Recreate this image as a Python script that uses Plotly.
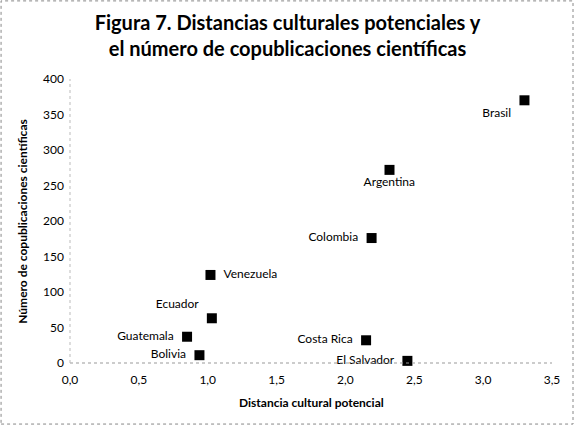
import plotly.graph_objs as go

countries = ['Brasil', 'Argentina', 'Colombia', 'Venezuela', 'Ecuador',
             'Guatemala', 'Bolivia', 'Costa Rica', 'El Salvador']
distancia = [3.30, 2.32, 2.19, 1.02, 1.03, 0.85, 0.94, 2.15, 2.45]
copublicaciones = [370, 272, 176, 124, 63, 37, 11, 32, 3]
label_pos = ['bottom left', 'bottom center', 'middle left', 'middle right',
             'top left', 'middle left', 'middle left', 'middle left', 'middle left']

x_ticks = [0, 0.5, 1, 1.5, 2, 2.5, 3, 3.5]
x_tick_labels = ['0,0', '0,5', '1,0', '1,5', '2,0', '2,5', '3,0', '3,5']

font_family = 'Lato, Open Sans, sans-serif'

fig = go.Figure()
fig.add_trace(go.Scatter(
    x=distancia,
    y=copublicaciones,
    mode='markers+text',
    text=['  ' + c + '  ' for c in countries],
    textposition=label_pos,
    textfont=dict(family=font_family, size=12, color='black'),
    marker=dict(symbol='square', size=10, color='black'),
    showlegend=False,
    cliponaxis=False,
))

fig.update_layout(
    width=575,
    height=426,
    title=dict(
        text='<b>Figura 7. Distancias culturales potenciales y<br>el número de copublicaciones científicas</b>',
        x=0.5,
        y=0.93,
        xanchor='center',
        yanchor='top',
        font=dict(family=font_family, size=20, color='black'),
    ),
    xaxis=dict(
        range=[0, 3.5],
        tickvals=x_ticks,
        ticktext=x_tick_labels,
        showgrid=False,
        zeroline=False,
        showline=False,
        ticks='',
        ticklabelstandoff=8,
        automargin=False,
        tickfont=dict(family=font_family, size=12, color='black'),
    ),
    yaxis=dict(
        range=[0, 400],
        dtick=50,
        showgrid=False,
        zeroline=False,
        showline=False,
        ticks='',
        ticklabelstandoff=5,
        automargin=False,
        tickfont=dict(family=font_family, size=12, color='black'),
    ),
    paper_bgcolor='white',
    plot_bgcolor='white',
    margin=dict(l=70, r=23, t=79, b=63),
    annotations=[
        dict(text='<b>Distancia cultural potencial</b>', xref='paper', yref='paper',
             x=0.5, y=-0.14, xanchor='center', yanchor='middle', showarrow=False,
             font=dict(family=font_family, size=12, color='black')),
        dict(text='<b>Número de copublicaciones científicas</b>', xref='paper', yref='paper',
             x=-0.1, y=0.5, xanchor='center', yanchor='middle', textangle=-90,
             showarrow=False, font=dict(family=font_family, size=12, color='black')),
    ],
    shapes=[
        # dotted axis lines
        dict(type='line', xref='paper', yref='paper', x0=0, x1=1, y0=0, y1=0,
             line=dict(color='#999999', width=1, dash='dot')),
        dict(type='line', xref='paper', yref='paper', x0=0, x1=0, y0=0, y1=1,
             line=dict(color='#bbbbbb', width=1, dash='dot')),
        # chart border
        dict(type='rect', xref='paper', yref='paper',
             x0=-0.143, x1=1.0436, y0=-0.215, y1=1.275,
             line=dict(color='#888888', width=1, dash='dot')),
    ],
)

fig.write_html('out.html', config={'displayModeBar': False},
               post_script="document.body.style.margin='0';")
